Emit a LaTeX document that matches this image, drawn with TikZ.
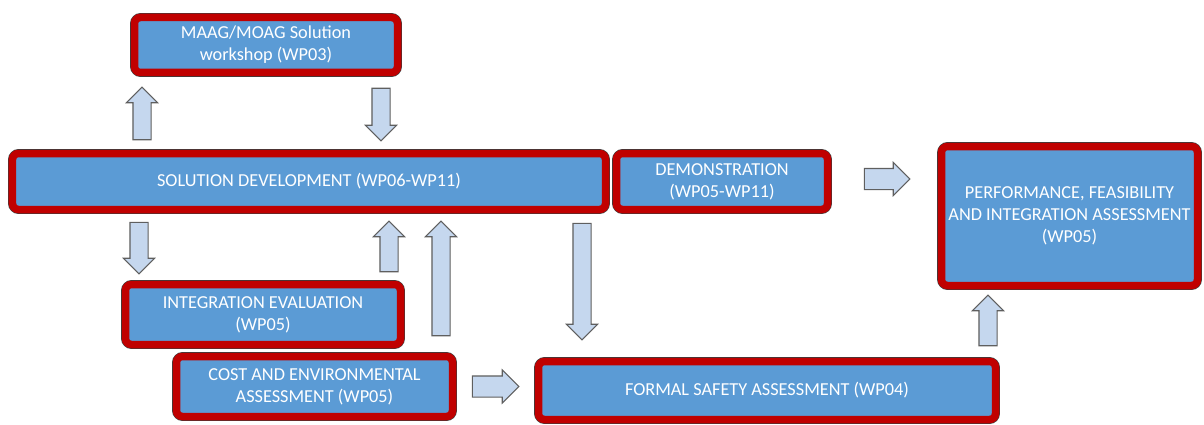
\documentclass[tikz,border=0pt]{standalone}
\usepackage{fontspec}
\newfontfamily\wpfont{Carlito}
\usepackage{tikz}
\usetikzlibrary{shapes.arrows, calc, positioning}
\definecolor{wpblue}{RGB}{91,155,213}
\definecolor{wpred}{RGB}{192,0,0}
\definecolor{wpedge}{RGB}{60,60,60}
\definecolor{arrowfill}{RGB}{197,215,238}
\definecolor{arrowedge}{RGB}{95,95,95}

\begin{document}
\begin{tikzpicture}
 \useasboundingbox (0,0) rectangle (24.08,8.48);
 \tikzstyle{wpbox}=[rectangle,rounded corners=1.2mm,fill=wpblue,draw=wpred,
   line width=1.5mm,preaction={draw=wpedge,line width=1.75mm},
   text=white,align=center,font=\wpfont\fontsize{10.4}{12.5}\selectfont]
 \tikzstyle{vbar}=[single arrow,draw=arrowedge,fill=arrowfill,line width=0.6pt,
   inner xsep=0pt,inner ysep=1.7mm,minimum width=0pt,single arrow head extend=1.3mm]
 \tikzstyle{hbar}=[vbar,inner ysep=2mm,single arrow head extend=1.2mm]
 \tikzset{blockarrow/.style n args={3}{to path={
   let \p1=($(\tikztostart)!#1!(\tikztotarget)$),
       \p2=($(\tikztotarget)!#2!(\tikztostart)$),
       \n1={atan2(\y2-\y1,\x2-\x1)},\n2={veclen(\x2-\x1,\y2-\y1)} in
   node[#3,minimum height=\n2,rotate=\n1,anchor=tail] at (\p1) {}}}}

 % work package boxes
 \node (maag) [wpbox,minimum width=5.26cm,minimum height=1.1cm] at (5.32,7.58)
   {MAAG/MOAG Solution\\workshop (WP03)};
 \node (sol) [wpbox,minimum width=11.86cm,minimum height=1.12cm] at (6.18,4.85)
   {SOLUTION DEVELOPMENT (WP06-WP11)};
 \node (demo) [wpbox,minimum width=4.22cm,minimum height=1.12cm] at (14.44,4.85)
   {DEMONSTRATION\\(WP05-WP11)};
 \node (perf) [wpbox,minimum width=5.12cm,minimum height=2.78cm] at (21.39,4.16)
   {PERFORMANCE, FEASIBILITY\\AND INTEGRATION ASSESSMENT\\(WP05)};
 \node (integ) [wpbox,minimum width=5.5cm,minimum height=1.2cm] at (5.26,2.19)
   {INTEGRATION EVALUATION\\(WP05)};
 \node (cost) [wpbox,minimum width=5.52cm,minimum height=1.2cm] at (6.29,0.75)
   {COST AND ENVIRONMENTAL\\ASSESSMENT (WP05)};
 \node (fsa) [wpbox,minimum width=9.14cm,minimum height=1.16cm] at (15.34,0.67)
   {FORMAL SAFETY ASSESSMENT (WP04)};

 % where the block arrows stand
 \coordinate (toMaag) at (2.84,0);
 \coordinate (fromMaag) at (7.62,0);
 \coordinate (toInteg) at (2.78,0);
 \coordinate (fromInteg) at (7.78,0);
 \coordinate (fromCost) at (8.82,0);
 \coordinate (toFsa) at (11.64,0);
 \coordinate (fromFsa) at (19.76,0);
 \coordinate (demoLine) at (0,4.9);

 \path (toMaag |- sol.north) to[blockarrow={1.9mm}{2.3mm}{vbar}] (toMaag |- maag.south);
 \path (fromMaag |- maag.south) to[blockarrow={2.3mm}{1.9mm}{vbar}] (fromMaag |- sol.north);
 \path (toInteg |- sol.south) to[blockarrow={1.7mm}{1.5mm}{vbar}] (toInteg |- integ.north);
 \path (fromInteg |- integ.north) to[blockarrow={1.7mm}{1.7mm}{vbar}] (fromInteg |- sol.south);
 \path (fromCost |- cost.north) to[blockarrow={3.3mm}{1.7mm}{vbar}] (fromCost |- sol.south);
 \path (toFsa |- sol.south) to[blockarrow={1.9mm}{3.7mm}{vbar}] (toFsa |- fsa.north);
 \path (demo.east |- demoLine) to[blockarrow={6.5mm}{5.7mm}{hbar}] (perf.west |- demoLine);
 \path (cost.east) to[blockarrow={3.1mm}{3.3mm}{hbar}] (fsa.west |- cost.east);
 \path (fromFsa |- fsa.north) to[blockarrow={2.3mm}{1.3mm}{vbar}] (fromFsa |- perf.south);
\end{tikzpicture}
\end{document}
